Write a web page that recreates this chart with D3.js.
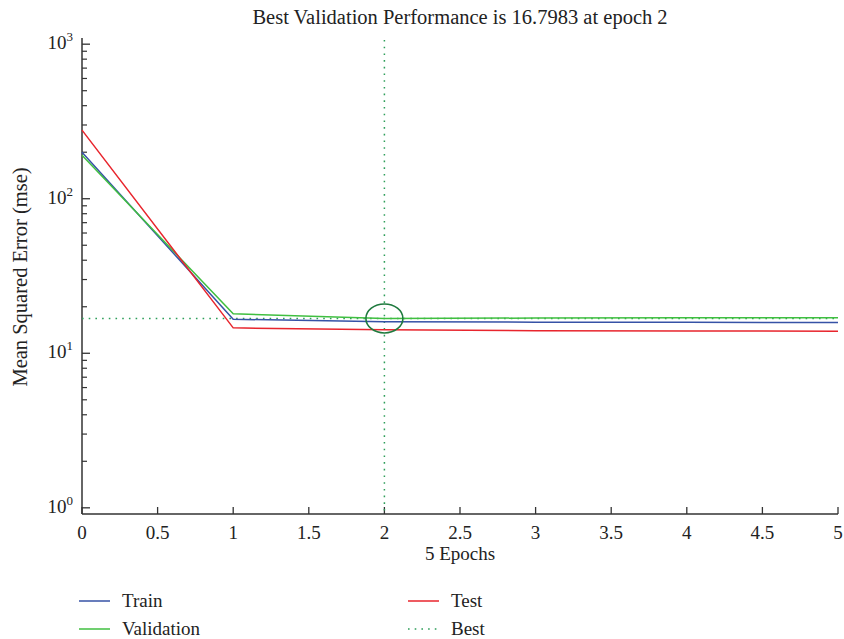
<!DOCTYPE html>
<html lang="en">
<head>
  <meta charset="UTF-8">
  <title>Best Validation Performance</title>
  <script src="https://d3js.org/d3.v7.min.js"></script>
  <style>
    body {
      margin: 0;
      background: #fff;
    }

    svg {
      display: block;
      font-family: "Liberation Serif", "Times New Roman", serif;
    }

    .lbl {
      font-size: 19px;
      fill: #222;
    }

    .big {
      font-size: 20.5px;
    }
  </style>
</head>
<body>
  <svg width="844" height="639"></svg>

  <script>
    // values
    const epochs = [0, 1, 2, 3, 4, 5];
    const train = [200, 16.6, 16.0, 15.9, 15.85, 15.8];
    const validation = [191, 18.0, 16.7983, 16.9, 17.0, 17.0];
    const test = [278, 14.6, 14.2, 14.0, 13.95, 13.9];
    const bestEpoch = 2;
    const bestValue = 16.7983;
    const xTicks = [0, 0.5, 1, 1.5, 2, 2.5, 3, 3.5, 4, 4.5, 5];
    const yTicks = [1, 10, 100, 1000];

    const series = [
      { name: "Train", values: train, color: "#3652a6" },
      { name: "Validation", values: validation, color: "#40bf40" },
      { name: "Test", values: test, color: "#e8252d" }
    ];

    const svg = d3.select("svg");
    const plotL = 82, plotR = 838, plotT = 38, plotB = 514;

    const x = d3.scaleLinear().domain([0, 5]).range([plotL, plotR]);
    const y = d3.scaleLog()
      .domain([Math.pow(10, -0.04), Math.pow(10, 3.04)])
      .range([plotB, plotT]);

    // title
    svg.append("text")
      .attr("class", "lbl big")
      .attr("x", 460)
      .attr("y", 24)
      .attr("text-anchor", "middle")
      .text("Best Validation Performance is 16.7983 at epoch 2");

    // axes lines
    svg.append("line")
      .attr("x1", plotL).attr("x2", plotL)
      .attr("y1", plotT).attr("y2", plotB)
      .attr("stroke", "#333").attr("stroke-width", 1.5);
    svg.append("line")
      .attr("x1", plotL).attr("x2", plotR)
      .attr("y1", plotB).attr("y2", plotB)
      .attr("stroke", "#333").attr("stroke-width", 1.5);

    // x ticks (inward)
    const xt = svg.append("g");
    xt.selectAll("line").data(xTicks).enter().append("line")
      .attr("x1", d => x(d)).attr("x2", d => x(d))
      .attr("y1", plotB).attr("y2", plotB - 7)
      .attr("stroke", "#333").attr("stroke-width", 1.3);
    xt.selectAll("text").data(xTicks).enter().append("text")
      .attr("class", "lbl")
      .attr("x", d => x(d))
      .attr("y", 539)
      .attr("text-anchor", "middle")
      .text(d => d);

    // y ticks, major and minor (inward)
    const minor = [];
    yTicks.slice(0, -1).forEach(p => {
      for (let k = 2; k <= 9; k++) minor.push(p * k);
    });
    const yt = svg.append("g");
    yt.selectAll("line.major").data(yTicks).enter().append("line")
      .attr("class", "major")
      .attr("x1", plotL).attr("x2", plotL + 8)
      .attr("y1", d => y(d)).attr("y2", d => y(d))
      .attr("stroke", "#333").attr("stroke-width", 1.3);
    yt.selectAll("line.minor").data(minor).enter().append("line")
      .attr("class", "minor")
      .attr("x1", plotL).attr("x2", plotL + 5)
      .attr("y1", d => y(d)).attr("y2", d => y(d))
      .attr("stroke", "#333").attr("stroke-width", 1.2);

    const ylab = yt.selectAll("text").data(yTicks).enter().append("text")
      .attr("class", "lbl")
      .attr("x", 73)
      .attr("y", d => y(d) + 5)
      .attr("text-anchor", "end");
    ylab.append("tspan").text("10");
    ylab.append("tspan")
      .attr("dy", -8)
      .attr("font-size", 13)
      .text(d => Math.round(Math.log10(d)));

    // best markers
    const best = svg.append("g").attr("stroke", "#2e9e5a").attr("stroke-width", 1.5)
      .attr("stroke-dasharray", "1.6,5.1");
    best.append("line")
      .attr("x1", x(bestEpoch)).attr("x2", x(bestEpoch))
      .attr("y1", 40).attr("y2", plotB);
    best.append("line")
      .attr("x1", plotL).attr("x2", plotR)
      .attr("y1", y(bestValue)).attr("y2", y(bestValue));

    // series
    const line = d3.line()
      .x((d, i) => x(epochs[i]))
      .y(d => y(d));

    svg.append("g").selectAll("path").data(series).enter().append("path")
      .attr("fill", "none")
      .attr("stroke", d => d.color)
      .attr("stroke-width", 1.5)
      .attr("d", d => line(d.values));

    // best circle
    svg.append("ellipse")
      .attr("cx", x(bestEpoch))
      .attr("cy", y(bestValue))
      .attr("rx", 18.5)
      .attr("ry", 14.5)
      .attr("fill", "none")
      .attr("stroke", "#1f7a3e")
      .attr("stroke-width", 1.6);

    // axis labels
    svg.append("text")
      .attr("class", "lbl")
      .attr("x", 460)
      .attr("y", 560)
      .attr("text-anchor", "middle")
      .text("5 Epochs");

    svg.append("text")
      .attr("class", "lbl big")
      .attr("transform", "translate(27,277) rotate(-90)")
      .attr("text-anchor", "middle")
      .text("Mean Squared Error (mse)");

    // legend
    const legendItems = [
      { name: "Train", color: "#3652a6", dash: null, lx: 79, ly: 601 },
      { name: "Validation", color: "#40bf40", dash: null, lx: 79, ly: 629 },
      { name: "Test", color: "#e8252d", dash: null, lx: 408, ly: 601 },
      { name: "Best", color: "#2e9e5a", dash: "1.6,5.1", lx: 408, ly: 629 }
    ];
    const lg = svg.append("g").selectAll("g").data(legendItems).enter().append("g");
    lg.append("line")
      .attr("x1", d => d.lx).attr("x2", d => d.lx + 31)
      .attr("y1", d => d.ly).attr("y2", d => d.ly)
      .attr("stroke", d => d.color)
      .attr("stroke-width", 1.5)
      .attr("stroke-dasharray", d => d.dash);
    lg.append("text")
      .attr("class", "lbl")
      .attr("x", d => d.lx + 43)
      .attr("y", d => d.ly + 6)
      .text(d => d.name);
  </script>
</body>
</html>
